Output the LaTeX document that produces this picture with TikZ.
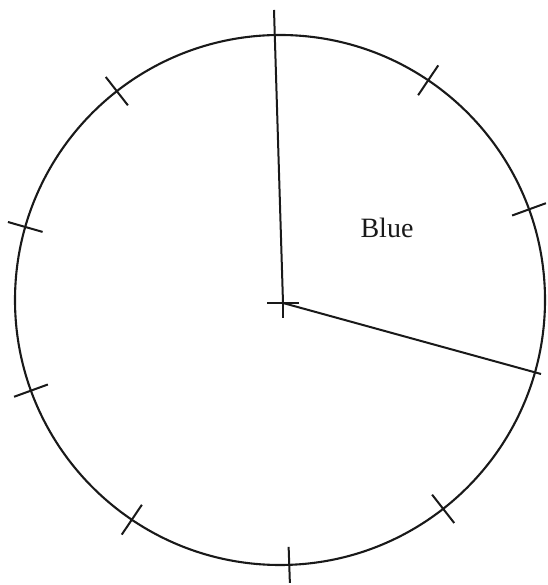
\documentclass[tikz,border=0pt]{standalone}
\usepackage{fontspec}
\setmainfont{Liberation Serif}
\tikzset{
  pieline/.style={draw=black!90, line width=2pt},
  piecircle/.style={draw=black!90, line width=2.1pt},
  lbl/.style={font=\fontsize{28}{32}\selectfont, text=black!90, inner sep=0pt}
}
\begin{document}
\begin{tikzpicture}[x=1pt,y=1pt]
\useasboundingbox (0,0) rectangle (547,585);
\coordinate (O) at (280,285);
\coordinate (C) at (283,282);
\coordinate (T) at (274,575);
\coordinate (E) at (541,211);
\draw[piecircle] (O) circle[radius=265];
\foreach \a in {56,20,-52,-88,-124,-160,164,128}
  \draw[pieline, shift={(O)}] (\a:247) -- (\a:283);
\draw[pieline] (T) -- (C);
\draw[pieline] (C) -- (E);
\draw[pieline] (C) ++(-16,0) -- ++(32,0);
\draw[pieline] (C) -- ++(0,-15);
\node[lbl, anchor=base] (blue) at (387,347) {Blue};
\end{tikzpicture}
\end{document}
